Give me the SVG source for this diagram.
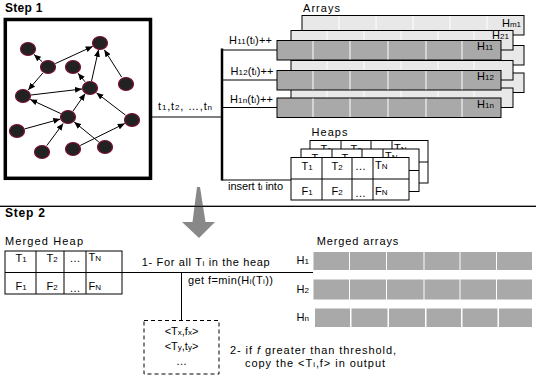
<svg xmlns="http://www.w3.org/2000/svg" xmlns:xlink="http://www.w3.org/1999/xlink" width="536" height="376" viewBox="0 0 536 376">
<style>
text{font-family:"Liberation Sans",Arial,sans-serif;font-size:11px;fill:#000}
.b{font-weight:bold;font-size:12px}
.s{font-size:8px}
.nd{fill:#222;stroke:#7a1030;stroke-width:1.2}
.e{stroke:#000;stroke-width:1;fill:none;marker-end:url(#ah)}
.ln{stroke:#000;stroke-width:1.2;fill:none}
.lt{fill:#e8e8e8;stroke:#000;stroke-width:1}
.dk{fill:#a9a9a9;stroke:#000;stroke-width:1}
.wd{stroke:#fff;stroke-width:1}
.cell{fill:#a9a9a9}
.tb{fill:#fff;stroke:#000;stroke-width:1}
</style>
<defs>
<marker id="ah" markerWidth="7" markerHeight="6" refX="7" refY="3" orient="auto" markerUnits="userSpaceOnUse"><path d="M0,0 L7,3 L0,6 z" fill="#000"/></marker>
<g id="heapT">
<rect class="tb" x="0" y="0" width="118" height="42.5"/>
<path d="M0,21.5 H118 M31,0 V42.5 M61,0 V42.5 M82,0 V42.5" stroke="#000" stroke-width="1" fill="none"/>
<text x="10.5" y="12.5">T<tspan class="s">1</tspan></text>
<text x="40.5" y="12.5">T<tspan class="s">2</tspan></text>
<text x="64" y="12.5">…</text>
<text x="84" y="11">T<tspan class="s">N</tspan></text>
<text x="10.5" y="37">F<tspan class="s">1</tspan></text>
<text x="40.5" y="37">F<tspan class="s">2</tspan></text>
<text x="64" y="39.5">…</text>
<text x="84" y="37.5">F<tspan class="s">N</tspan></text>
</g>
</defs>
<rect width="536" height="376" fill="#fff"/>

<text class="b" x="5" y="11.5" textLength="37.5">Step 1</text>
<g id="graph">
<rect x="5.3" y="19.5" width="145.2" height="158.8" fill="#fff" stroke="#000" stroke-width="3.5"/>
<g id="graph-edges">
<line class="e" x1="42" y1="61.6" x2="34" y2="54.4"/>
<line class="e" x1="55.3" y1="63.6" x2="92.7" y2="46.4"/>
<line class="e" x1="42.8" y1="73" x2="28.2" y2="90"/>
<line class="e" x1="85" y1="81.8" x2="78" y2="73.2"/>
<line class="e" x1="91.5" y1="81.2" x2="98.5" y2="49.8"/>
<line class="e" x1="121.7" y1="77.2" x2="104.3" y2="49.8"/>
<line class="e" x1="31" y1="95" x2="82" y2="89"/>
<line class="e" x1="60.8" y1="113.6" x2="30.2" y2="99.4"/>
<line class="e" x1="72.8" y1="111.4" x2="85.2" y2="93.6"/>
<line class="e" x1="125.6" y1="115.2" x2="96.4" y2="92.8"/>
<line class="e" x1="24.7" y1="128.9" x2="60.3" y2="119.1"/>
<line class="e" x1="46.8" y1="145.6" x2="63.2" y2="123.4"/>
<line class="e" x1="98.8" y1="142" x2="74.2" y2="122"/>
<line class="e" x1="80.2" y1="145.5" x2="124.8" y2="123.5"/>
</g>
<g id="n1"><ellipse class="nd" cx="28" cy="49" rx="7.5" ry="6.5"/></g>
<g id="n2"><ellipse class="nd" cx="100" cy="43" rx="7.5" ry="6.5"/></g>
<g id="n3"><ellipse class="nd" cx="48" cy="67" rx="7.5" ry="6.5"/></g>
<g id="n4"><ellipse class="nd" cx="73" cy="67" rx="7.5" ry="6.5"/></g>
<g id="n5"><ellipse class="nd" cx="126" cy="84" rx="7.5" ry="6.5"/></g>
<g id="n6"><ellipse class="nd" cx="90" cy="88" rx="7.5" ry="6.5"/></g>
<g id="n7"><ellipse class="nd" cx="23" cy="96" rx="7.5" ry="6.5"/></g>
<g id="n8"><ellipse class="nd" cx="68" cy="117" rx="7.5" ry="6.5"/></g>
<g id="n9"><ellipse class="nd" cx="132" cy="120" rx="7.5" ry="6.5"/></g>
<g id="n10"><ellipse class="nd" cx="17" cy="131" rx="7.5" ry="6.5"/></g>
<g id="n11"><ellipse class="nd" cx="42" cy="152" rx="7.5" ry="6.5"/></g>
<g id="n12"><ellipse class="nd" cx="73" cy="149" rx="7.5" ry="6.5"/></g>
<g id="n13"><ellipse class="nd" cx="105" cy="147" rx="7.5" ry="6.5"/></g>
</g>

<g id="connectors">
<path class="ln" d="M152,117 H222"/>
<path d="M222,48.5 V180.5" stroke="#000" stroke-width="2.5" fill="none"/>
<path class="ln" d="M222,50 H277 M222,80 H277 M222,107.5 H277 M222,180 H291"/>
<path d="M0,206.3 H536" stroke="#000" stroke-width="1"/>
<path d="M122,272.5 H313 M181.5,272.5 V320.5" stroke="#000" stroke-width="1" fill="none"/>
</g>
<text x="158" y="110" textLength="54">t<tspan class="s">1</tspan>,t<tspan class="s">2</tspan>, …,t<tspan class="s">n</tspan></text>
<text x="229" y="44" textLength="43">H<tspan class="s">11</tspan>(t<tspan class="s">i</tspan>)++</text>
<text x="230.5" y="75" textLength="43">H<tspan class="s">12</tspan>(t<tspan class="s">i</tspan>)++</text>
<text x="230" y="103" textLength="43">H<tspan class="s">1n</tspan>(t<tspan class="s">i</tspan>)++</text>
<text x="228" y="190" textLength="55">insert t<tspan class="s">i</tspan> into</text>

<g id="arrays">
<text x="303" y="12" textLength="37">Arrays</text>
<g id="arrays-back">
<rect class="lt" x="302" y="15.5" width="222" height="19.5"/>
<rect class="lt" x="302" y="45.5" width="222" height="19.5"/>
<rect class="lt" x="302" y="73" width="222" height="19.5"/>
<path class="wd" d="M339,16 V34.5 M376,16 V34.5 M413,16 V34.5 M450,16 V34.5 M487,16 V34.5"/>
<text x="502" y="27">H<tspan class="s">m1</tspan></text>
</g>
<g id="arrays-mid">
<rect class="lt" x="291" y="30.5" width="222" height="19.5"/>
<rect class="lt" x="291" y="60.5" width="222" height="19.5"/>
<rect class="lt" x="291" y="88" width="222" height="19.5"/>
<path class="wd" d="M327,31 V49.5 M364,31 V49.5 M401,31 V49.5 M438,31 V49.5 M474,31 V49.5 M327,61 V79.5 M364,61 V79.5 M401,61 V79.5 M438,61 V79.5 M474,61 V79.5 M327,88.5 V107 M364,88.5 V107 M401,88.5 V107 M438,88.5 V107 M474,88.5 V107"/>
<text x="492" y="39">H<tspan class="s">21</tspan></text>
</g>
<g id="arrays-front">
<rect class="dk" x="277" y="40.5" width="224" height="19.5"/>
<rect class="dk" x="277" y="70.5" width="224" height="19.5"/>
<rect class="dk" x="277" y="98" width="224" height="19.5"/>
<path class="wd" d="M313,41 V59.5 M350,41 V59.5 M388,41 V59.5 M426,41 V59.5 M462,41 V59.5 M313,71 V89.5 M350,71 V89.5 M388,71 V89.5 M426,71 V89.5 M462,71 V89.5 M313,98.5 V117 M350,98.5 V117 M388,98.5 V117 M426,98.5 V117 M462,98.5 V117"/>
<text x="477" y="50">H<tspan class="s">11</tspan></text>
<text x="477" y="80">H<tspan class="s">12</tspan></text>
<text x="477" y="107.5">H<tspan class="s">1n</tspan></text>
</g>
</g>

<g id="heaps">
<text x="311.5" y="136" textLength="36">Heaps</text>
<use xlink:href="#heapT" x="310" y="140.5"/>
<use xlink:href="#heapT" x="301" y="149"/>
<use xlink:href="#heapT" x="291" y="157.5"/>
</g>

<g id="step-arrow">
<path d="M197,187 L200,187 L205.5,222 L215,222 L199,238 L182,222 L192.5,222 Z" fill="#888"/>
</g>
<path d="M0,206.3 H536" stroke="#000" stroke-width="1"/>

<text class="b" x="5" y="217" textLength="40">Step 2</text>

<g id="merged-heap">
<text x="5" y="245" textLength="78">Merged Heap</text>
<rect class="tb" x="5" y="251" width="117" height="43"/>
<path d="M5,272.5 H122 M36,251 V294 M64,251 V294 M86,251 V294" stroke="#000" stroke-width="1" fill="none"/>
<text x="15.5" y="262">T<tspan class="s">1</tspan></text>
<text x="46.5" y="262">T<tspan class="s">2</tspan></text>
<text x="69.5" y="262">…</text>
<text x="88.5" y="260.5">T<tspan class="s">N</tspan></text>
<text x="15.5" y="290">F<tspan class="s">1</tspan></text>
<text x="46.5" y="290">F<tspan class="s">2</tspan></text>
<text x="69.5" y="292">…</text>
<text x="88.5" y="290">F<tspan class="s">N</tspan></text>
</g>

<text x="141.7" y="266" textLength="128">1- For all T<tspan class="s">i</tspan> in the heap</text>
<text x="188" y="284" textLength="85">get f=min(H<tspan class="s">i</tspan>(T<tspan class="s">i</tspan>))</text>

<g id="output-box">
<rect x="144" y="320.5" width="75" height="53.5" fill="#fff" stroke="#000" stroke-width="1" stroke-dasharray="4,3"/>
<text x="181.5" y="335" text-anchor="middle">&lt;T<tspan class="s">x</tspan>,f<tspan class="s">x</tspan>&gt;</text>
<text x="181.5" y="349.5" text-anchor="middle">&lt;T<tspan class="s">y</tspan>,t<tspan class="s">y</tspan>&gt;</text>
<text x="181.5" y="365" text-anchor="middle">…</text>
</g>
<text x="230" y="354" textLength="166">2- if  <tspan font-style="italic">f</tspan> greater than threshold,</text>
<text x="245" y="367" textLength="140">copy the &lt;T<tspan class="s">i</tspan>,f&gt; in output</text>

<g id="merged-arrays">
<text x="316.7" y="245" textLength="81.6">Merged arrays</text>
<text x="296.5" y="264">H<tspan class="s">1</tspan></text>
<text x="296.5" y="293">H<tspan class="s">2</tspan></text>
<text x="296.5" y="321">H<tspan class="s">n</tspan></text>
<g id="ma-row1">
<rect class="cell" x="313.5" y="252" width="35.5" height="18"/>
<rect class="cell" x="350" y="252" width="36" height="18"/>
<rect class="cell" x="387" y="252" width="36.5" height="18"/>
<rect class="cell" x="424.5" y="252" width="35" height="18"/>
<rect class="cell" x="460.5" y="252" width="35.5" height="18"/>
<rect class="cell" x="497" y="252" width="35" height="18"/>
</g>
<g id="ma-row2">
<rect class="cell" x="313.5" y="279.5" width="35.5" height="20"/>
<rect class="cell" x="350" y="279.5" width="36" height="20"/>
<rect class="cell" x="387" y="279.5" width="36.5" height="20"/>
<rect class="cell" x="424.5" y="279.5" width="35" height="20"/>
<rect class="cell" x="460.5" y="279.5" width="35.5" height="20"/>
<rect class="cell" x="497" y="279.5" width="35" height="20"/>
</g>
<g id="ma-row3">
<rect class="cell" x="315" y="308.5" width="35" height="18.5"/>
<rect class="cell" x="351.5" y="308.5" width="36" height="18.5"/>
<rect class="cell" x="389" y="308.5" width="36" height="18.5"/>
<rect class="cell" x="426.5" y="308.5" width="34.5" height="18.5"/>
<rect class="cell" x="462.5" y="308.5" width="35" height="18.5"/>
<rect class="cell" x="499" y="308.5" width="33" height="18.5"/>
</g>
</g>
</svg>
